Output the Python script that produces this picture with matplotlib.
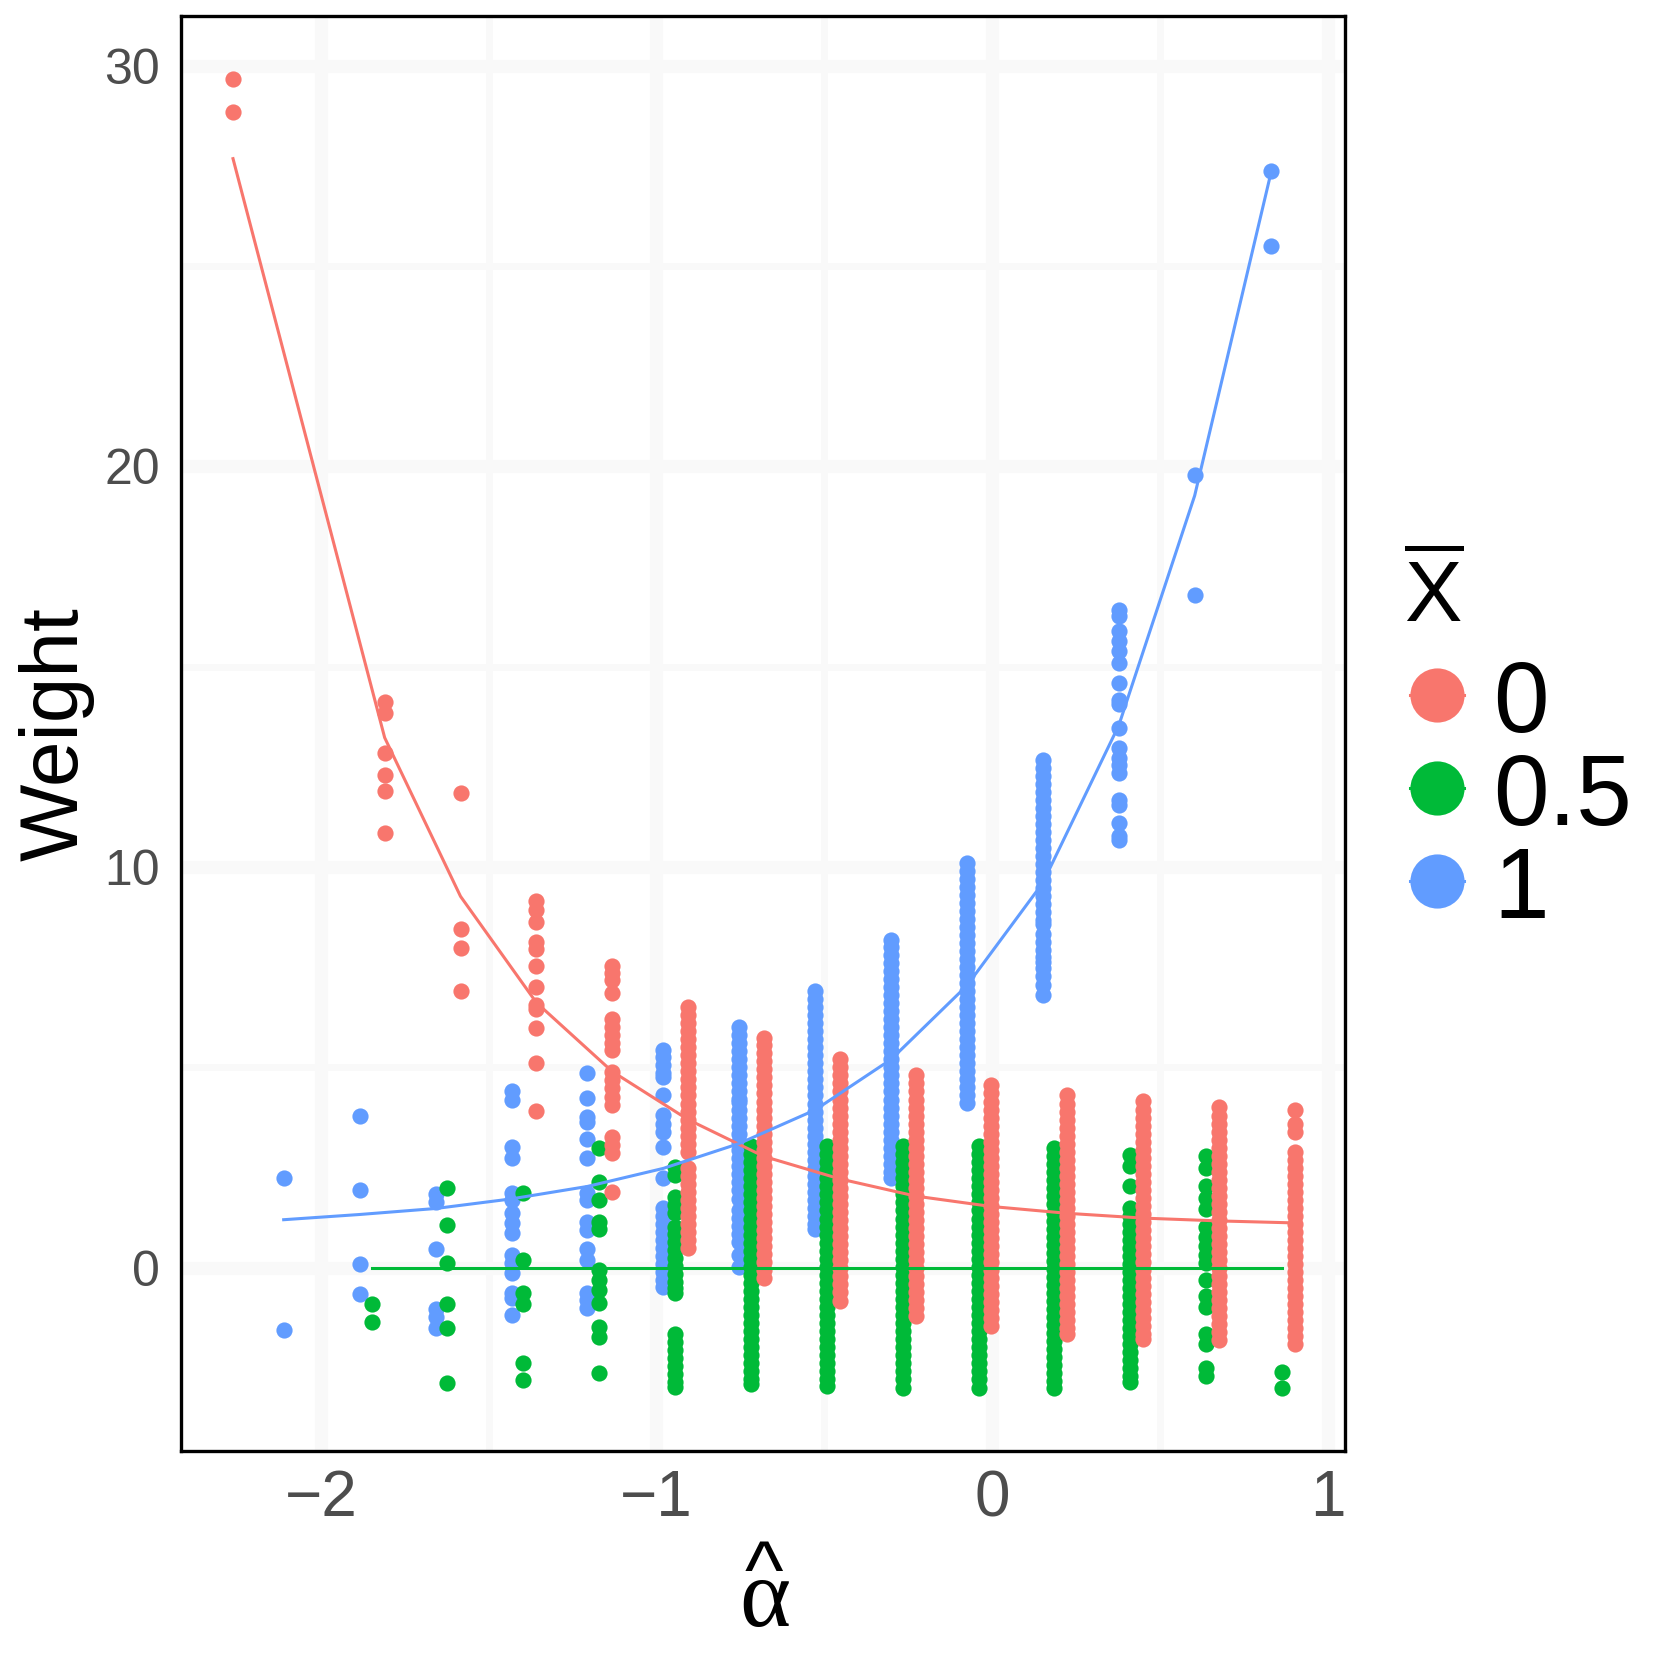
import matplotlib
matplotlib.use("Agg")
import matplotlib.pyplot as plt
import matplotlib.lines as mlines

plt.rcParams["font.family"] = ["Liberation Sans", "DejaVu Sans"]
plt.rcParams["mathtext.fontset"] = "custom"
plt.rcParams["mathtext.rm"] = "Liberation Sans"

# ---- data ----
red_x = [-2.262, -1.810, -1.584, -1.358, -1.132, -0.906, -0.680, -0.454,
         -0.228, -0.002, 0.224, 0.450, 0.676, 0.902]
red_y = [
    [29.66, 28.85],
    [14.13, 13.85, 12.85, 12.31, 11.90, 10.85],
    [11.86, 8.45, 7.99, 6.92],
    [9.15, 8.93, 8.64, 8.14, 7.95, 7.54, 7.01, 6.56, 6.45, 5.98, 5.12, 3.91],
    [7.54, 7.36, 7.18, 6.85, 6.21, 6.02, 5.81, 5.62, 5.43, 4.89, 4.69, 4.48,
     4.27, 4.06, 3.27, 3.06, 2.86, 1.90],
    [6.5, 6.3, 6.1, 5.9, 5.7, 5.5, 5.3, 5.1, 4.9, 4.7, 4.5, 4.3, 4.1, 3.9,
     3.7, 3.5, 3.3, 3.1, 2.9, 2.5, 2.3, 2.1, 1.9, 1.7, 1.5, 1.3, 1.1, 0.9,
     0.7, 0.5],
    [5.73, 5.55, 5.35, 5.15, 4.95, 4.75, 4.55, 4.35, 4.15, 3.95, 3.75, 3.55,
     3.35, 3.15, 2.95, 2.75, 2.55, 2.35, 2.15, 1.95, 1.75, 1.55, 1.35, 1.15,
     0.95, 0.75, 0.55, 0.35, 0.15, -0.05, -0.26],
    [5.2, 5.0, 4.8, 4.6, 4.4, 4.2, 4.0, 3.8, 3.6, 3.4, 3.2, 3.0, 2.8, 2.6,
     2.4, 2.2, 2.0, 1.8, 1.6, 1.4, 1.2, 1.0, 0.8, 0.6, 0.4, 0.2, 0.0, -0.2,
     -0.4, -0.6, -0.84],
    [4.81, 4.6, 4.4, 4.2, 4.0, 3.8, 3.6, 3.4, 3.2, 3.0, 2.8, 2.6, 2.4, 2.2,
     2.0, 1.8, 1.6, 1.4, 1.2, 1.0, 0.8, 0.6, 0.4, 0.2, 0.0, -0.2, -0.4, -0.6,
     -0.8, -1.0, -1.2],
    [4.56, 4.35, 4.15, 3.95, 3.75, 3.55, 3.35, 3.15, 2.95, 2.75, 2.55, 2.35,
     2.15, 1.95, 1.75, 1.55, 1.35, 1.15, 0.95, 0.75, 0.55, 0.35, 0.15, -0.05,
     -0.25, -0.45, -0.65, -0.85, -1.05, -1.25, -1.46],
    [4.32, 4.1, 3.9, 3.7, 3.5, 3.3, 3.1, 2.9, 2.7, 2.5, 2.3, 2.1, 1.9, 1.7,
     1.5, 1.3, 1.1, 0.9, 0.7, 0.5, 0.3, 0.1, -0.1, -0.3, -0.5, -0.7, -0.9,
     -1.1, -1.3, -1.5, -1.65],
    [4.17, 3.95, 3.75, 3.55, 3.35, 3.15, 2.95, 2.75, 2.55, 2.35, 2.15, 1.95,
     1.75, 1.55, 1.35, 1.15, 0.95, 0.75, 0.55, 0.35, 0.15, -0.05, -0.25,
     -0.45, -0.65, -0.85, -1.05, -1.25, -1.45, -1.65, -1.78],
    [4.01, 3.8, 3.6, 3.4, 3.2, 3.0, 2.8, 2.6, 2.4, 2.2, 2.0, 1.8, 1.6, 1.4,
     1.2, 1.0, 0.8, 0.6, 0.4, 0.2, 0.0, -0.2, -0.4, -0.6, -0.8, -1.0, -1.2,
     -1.4, -1.6, -1.8],
    [3.94, 3.60, 3.40, 2.88, 2.7, 2.5, 2.3, 2.1, 1.9, 1.7, 1.5, 1.3, 1.1,
     0.9, 0.7, 0.5, 0.3, 0.1, -0.1, -0.3, -0.5, -0.7, -0.9, -1.1, -1.3, -1.5,
     -1.7, -1.89],
]
red_line = [27.68, 13.23, 9.27, 6.62, 4.90, 3.70, 2.78, 2.22, 1.79, 1.53,
            1.36, 1.24, 1.17, 1.12]

blue_x = [-2.111, -1.885, -1.658, -1.432, -1.206, -0.980, -0.754, -0.527,
          -0.301, -0.075, 0.151, 0.378, 0.604, 0.830]
blue_y = [
    [2.23, -1.55],
    [3.80, 1.93, 0.09, -0.65],
    [1.84, 1.64, 0.48, -1.02, -1.24, -1.51],
    [4.40, 4.20, 3.02, 2.73, 1.87, 1.69, 1.36, 1.11, 0.86, 0.32, 0.11, -0.14,
     -0.64, -0.76, -1.18],
    [4.85, 4.23, 3.77, 3.65, 3.21, 2.73, 1.86, 1.69, 1.15, 0.94, 0.46, 0.19,
     -0.64, -0.80, -1.01],
    [5.43, 5.25, 5.05, 4.85, 4.77, 4.31, 3.81, 3.6, 3.4, 3.02, 2.23, 1.5,
     1.3, 1.1, 0.9, 0.7, 0.5, 0.3, 0.1, -0.1, -0.3, -0.47],
    [6.02, 5.82, 5.62, 5.42, 5.22, 5.02, 4.82, 4.62, 4.42, 4.22, 4.13, 3.94,
     3.74, 3.54, 3.34, 3.14, 2.94, 2.74, 2.54, 2.34, 2.14, 1.94, 1.72, 1.45,
     1.25, 1.05, 0.85, 0.64, 0.31, 0.02],
    [6.9, 6.7, 6.5, 6.3, 6.1, 5.9, 5.7, 5.5, 5.3, 5.1, 4.9, 4.7, 4.5, 4.3,
     4.1, 3.9, 3.7, 3.5, 3.3, 3.1, 2.9, 2.7, 2.5, 2.3, 2.1, 1.9, 1.7, 1.5,
     1.3, 1.1, 0.97],
    [8.19, 8.0, 7.8, 7.6, 7.4, 7.2, 7.0, 6.8, 6.6, 6.4, 6.2, 6.0, 5.8, 5.6,
     5.4, 5.2, 5.0, 4.8, 4.6, 4.4, 4.2, 4.0, 3.8, 3.6, 3.4, 3.2, 3.0, 2.8,
     2.6, 2.4, 2.24],
    [10.1, 9.9, 9.7, 9.5, 9.3, 9.1, 8.9, 8.7, 8.5, 8.3, 8.1, 7.9, 7.7, 7.5,
     7.3, 7.1, 6.9, 6.7, 6.5, 6.3, 6.1, 5.9, 5.7, 5.5, 5.3, 5.1, 4.9, 4.7,
     4.5, 4.3, 4.11],
    [12.68, 12.48, 12.28, 12.08, 11.88, 11.68, 11.48, 11.28, 11.08, 10.88,
     10.68, 10.48, 10.28, 10.08, 9.88, 9.68, 9.48, 9.28, 9.08, 8.88, 8.68,
     8.58, 8.33, 8.13, 7.93, 7.75, 7.62, 7.47, 7.27, 7.05, 6.82],
    [16.41, 16.26, 15.88, 15.64, 15.40, 15.09, 14.59, 14.16, 14.07, 13.47,
     12.97, 12.73, 12.54, 12.35, 11.68, 11.54, 11.11, 10.77, 10.68],
    [19.78, 16.78],
    [27.38, 25.50],
]
blue_line = [1.20, 1.33, 1.48, 1.72, 2.03, 2.48, 3.10, 3.94, 5.20, 7.04,
             9.60, 13.54, 19.27, 27.28]

green_x = [-1.849, -1.623, -1.397, -1.171, -0.945, -0.718, -0.492, -0.266,
           -0.040, 0.186, 0.412, 0.638, 0.864]
green_y = [
    [-0.91, -1.35],
    [1.98, 1.08, 0.11, -0.90, -1.51, -2.87],
    [1.86, 0.19, -0.64, -0.90, -2.37, -2.80],
    [2.98, 2.15, 1.69, 1.15, 0.96, -0.06, -0.31, -0.55, -0.89, -1.47, -1.72,
     -2.63],
    [2.52, 2.31, 1.77, 1.56, 1.36, 1.03, 0.85, 0.65, 0.45, 0.25, 0.05, -0.15,
     -0.35, -0.5, -0.64, -1.64, -1.84, -2.04, -2.24, -2.44, -2.64, -2.84,
     -2.97],
    [3.03, 2.83, 2.63, 2.43, 2.23, 2.03, 1.83, 1.63, 1.43, 1.23, 1.03, 0.83,
     0.63, 0.43, 0.23, 0.03, -0.17, -0.37, -0.57, -0.77, -0.97, -1.17, -1.37,
     -1.57, -1.77, -1.97, -2.17, -2.37, -2.57, -2.77, -2.89],
    [3.03, 2.83, 2.63, 2.43, 2.23, 2.03, 1.83, 1.63, 1.43, 1.23, 1.03, 0.83,
     0.63, 0.43, 0.23, 0.03, -0.17, -0.37, -0.57, -0.77, -0.97, -1.17, -1.37,
     -1.57, -1.77, -1.97, -2.17, -2.37, -2.57, -2.77, -2.94],
    [3.03, 2.83, 2.63, 2.43, 2.23, 2.03, 1.83, 1.63, 1.43, 1.23, 1.03, 0.83,
     0.63, 0.43, 0.23, 0.03, -0.17, -0.37, -0.57, -0.77, -0.97, -1.17, -1.37,
     -1.57, -1.77, -1.97, -2.17, -2.37, -2.57, -2.77, -2.99],
    [3.03, 2.83, 2.63, 2.43, 2.23, 2.03, 1.83, 1.63, 1.43, 1.23, 1.03, 0.83,
     0.63, 0.43, 0.23, 0.03, -0.17, -0.37, -0.57, -0.77, -0.97, -1.17, -1.37,
     -1.57, -1.77, -1.97, -2.17, -2.37, -2.57, -2.77, -2.99],
    [2.98, 2.78, 2.58, 2.38, 2.18, 1.98, 1.78, 1.58, 1.38, 1.18, 0.98, 0.78,
     0.58, 0.38, 0.18, -0.02, -0.22, -0.42, -0.62, -0.82, -1.02, -1.22, -1.42,
     -1.62, -1.82, -2.02, -2.22, -2.42, -2.62, -2.82, -2.99],
    [2.81, 2.55, 2.03, 1.50, 1.3, 1.1, 0.9, 0.7, 0.5, 0.3, 0.1, -0.1, -0.3,
     -0.5, -0.7, -0.9, -1.1, -1.3, -1.5, -1.7, -1.9, -2.1, -2.3, -2.5, -2.7,
     -2.85],
    [2.79, 2.50, 2.03, 1.74, 1.47, 1.02, 0.78, 0.55, 0.33, 0.11, -0.31, -0.70,
     -0.98, -1.65, -1.89, -2.51, -2.70],
    [-2.61, -2.99],
]
green_line = [0.0, 0.0, 0.0, 0.0, 0.0, 0.0, 0.0, 0.0, 0.0, 0.0, 0.0, 0.0, 0.0]

legend_labels = ["0", "0.5", "1"]
colors = ["#F8766D", "#00BA38", "#619CFF"]

# ---- figure ----
W = 1661
fig = plt.figure(figsize=(W / 200, W / 200), dpi=200)
ax = fig.add_axes([181 / W, 1 - 1451 / W, (1345 - 181) / W, (1451 - 16) / W])

def column_points(xs, ys):
    px, py = [], []
    for x, col in zip(xs, ys):
        px += [x] * len(col)
        py += col
    return px, py

for xs, ys, c in [(blue_x, blue_y, colors[2]), (green_x, green_y, colors[1]),
                  (red_x, red_y, colors[0])]:
    px, py = column_points(xs, ys)
    ax.scatter(px, py, s=34, color=c, linewidths=0, zorder=3)

# red line skips the empty second column
ax.plot(red_x, red_line, color=colors[0], lw=1.1, zorder=4)
ax.plot(green_x, green_line, color=colors[1], lw=1.1, zorder=4)
ax.plot(blue_x, blue_line, color=colors[2], lw=1.1, zorder=4)

ax.set_xlim(-2.417, 1.052)
ax.set_ylim(-4.572, 31.24)
ax.set_xticks([-2, -1, 0, 1])
ax.set_xticklabels(["\u22122", "\u22121", "0", "1"])
ax.set_xticks([-1.5, -0.5, 0.5], minor=True)
ax.set_yticks([0, 10, 20, 30])
ax.set_yticks([5, 15, 25], minor=True)
ax.grid(which="major", color="#F9F9F9", lw=4.7)
ax.grid(which="minor", color="#F9F9F9", lw=2.5)
ax.set_axisbelow(True)
ax.tick_params(which="both", length=0)
ax.tick_params(axis="x", labelsize=23, labelcolor="#4D4D4D", pad=6.5)
ax.tick_params(axis="y", labelsize=18, labelcolor="#4D4D4D", pad=7.5)
for s in ax.spines.values():
    s.set_color("black")
    s.set_linewidth(1.2)

# axis titles
fig.text(56.5 / W, 1 - 734 / W, "Weight", rotation=90, ha="center",
         va="center", fontsize=29.5, color="black")
fig.text(764 / W, 1 - 1598 / W, "^", ha="center", va="baseline",
         fontsize=29.5, color="black")
fig.text(765 / W, 1 - 1603 / W, "\u03b1", ha="center", va="center",
         fontsize=35, color="black", family="Liberation Serif")

# legend
fig.text(1404 / W, 1 - 622 / W, r"$\overline{\mathrm{X}}$", ha="left",
         va="baseline", fontsize=31, color="black")
for i, (lab, c) in enumerate(zip(legend_labels, colors)):
    yc_px = 695 + 93 * i
    yc = 1 - yc_px / W
    fig.add_artist(mlines.Line2D([1410 / W, 1464 / W], [yc, yc], color=c,
                                 lw=1.1, transform=fig.transFigure))
    fig.add_artist(mlines.Line2D([1437 / W], [yc], color=c, marker="o",
                                 markersize=19.5, markeredgewidth=0,
                                 transform=fig.transFigure))
    fig.text(1493 / W, 1 - (yc_px + 37) / W, lab, ha="left", va="baseline",
             fontsize=36, color="black")

fig.savefig("out.png", dpi=200)
